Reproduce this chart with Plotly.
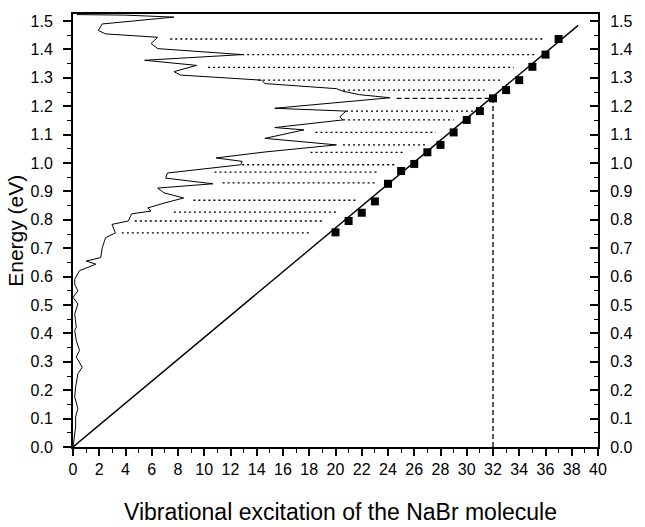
import plotly.graph_objects as go

# Spectrum (intensity on x, energy on y)
spec_x = [0.3, 4.0, 7.69, 2.23, 1.93, 2.48, 6.45, 5.95, 6.45, 12.89, 5.46, 9.42, 7.69, 8.18,
          14.38, 14.62, 20.07, 20.57, 21.81, 24.16, 15.37, 20.8, 20.33, 20.57, 15.37, 17.6,
          14.62, 20.07, 14.62, 10.9, 12.89, 12.77, 7.19, 7.06, 10.66, 6.45, 6.94, 8.43, 6.94,
          5.70, 5.95, 4.46, 4.22, 2.97, 3.23, 2.48, 2.23, 2.11, 1.0, 1.74, 0.5, 0.13, 0.13,
          0.37, 0.0, 0.37, 0.13, 0.25, 0.13, 0.25, 0.5, 0.25, 0.70, 0.37, 0.2, 0.13, 0.37,
          0.2, 0.2, 0.05, 0.0]
spec_y = [1.523, 1.521, 1.514, 1.490, 1.467, 1.455, 1.443, 1.421, 1.403, 1.382, 1.362, 1.344,
          1.322, 1.310, 1.292, 1.280, 1.262, 1.253, 1.241, 1.230, 1.193, 1.183, 1.163, 1.152,
          1.125, 1.117, 1.087, 1.064, 1.039, 1.018, 1.006, 0.994, 0.965, 0.947, 0.927, 0.912,
          0.895, 0.877, 0.859, 0.842, 0.831, 0.821, 0.796, 0.784, 0.754, 0.737, 0.702, 0.667,
          0.655, 0.644, 0.621, 0.591, 0.573, 0.550, 0.527, 0.504, 0.468, 0.422, 0.410, 0.375,
          0.340, 0.317, 0.281, 0.258, 0.211, 0.176, 0.136, 0.106, 0.071, 0.025, 0.0]

# Vibrational levels (squares)
levels_v = [20, 21, 22, 23, 24, 25, 26, 27, 28, 29, 30, 31, 32, 33, 34, 35, 36, 37]
levels_E = [0.756, 0.796, 0.825, 0.865, 0.927, 0.972, 0.997, 1.038, 1.064, 1.108, 1.152,
            1.183, 1.228, 1.257, 1.292, 1.339, 1.382, 1.437]

# Horizontal guide lines: energy, start, end
guide_E = [0.754, 0.796, 0.827, 0.869, 0.930, 0.968, 0.994, 1.038, 1.064, 1.108, 1.152,
           1.183, 1.228, 1.257, 1.292, 1.337, 1.382, 1.437]
guide_x0 = [3.72, 4.71, 7.69, 9.17, 11.4, 10.78, 12.89, 18.1, 20.57, 18.47, 20.57, 20.8,
            24.66, 20.57, 14.1, 10.29, 12.89, 7.41]
guide_x1 = [18.1, 19.09, 20.07, 21.69, 23.05, 23.17, 24.54, 25.28, 27.02, 27.64, 29.0, 30.48,
            31.72, 31.35, 32.71, 33.58, 35.2, 35.94]
highlight_v = 32

# Linear fit line
fit_x = [0.0, 38.49]
fit_y = [0.0, 1.485]

x_ticks = list(range(0, 41, 2))
y_ticks = [i / 10 for i in range(16)]

fig = go.Figure()

for E, a, b, v in zip(guide_E, guide_x0, guide_x1, levels_v):
    dash = "5px,3px" if v == highlight_v else "2px,3px"
    fig.add_trace(go.Scatter(x=[a, b], y=[E, E], mode="lines",
                             line=dict(color="black", width=1.3, dash=dash),
                             hoverinfo="skip", showlegend=False))

# vertical dashed at highlighted level
hE = levels_E[levels_v.index(highlight_v)]
fig.add_trace(go.Scatter(x=[highlight_v, highlight_v], y=[0, hE], mode="lines",
                         line=dict(color="black", width=1.3, dash="5px,3px"),
                         showlegend=False))

fig.add_trace(go.Scatter(x=spec_x, y=spec_y, mode="lines",
                         line=dict(color="black", width=1), showlegend=False))

fig.add_trace(go.Scatter(x=fit_x, y=fit_y, mode="lines",
                         line=dict(color="black", width=1.4), showlegend=False))

fig.add_trace(go.Scatter(x=levels_v, y=levels_E, mode="markers",
                         marker=dict(symbol="square", size=8, color="black"),
                         showlegend=False))

# dummy trace for right axis
fig.add_trace(go.Scatter(x=[None], y=[None], yaxis="y2", showlegend=False))

FAM = "Liberation Sans, Arial, sans-serif"
font = dict(family=FAM, size=16, color="black")
yrange = [0, 1.525]

fig.update_layout(
    width=645, height=527,
    margin=dict(l=73, r=33, t=12, b=80),
    plot_bgcolor="white", paper_bgcolor="white",
    font=font,
    xaxis=dict(range=[0, 40], tickvals=x_ticks, ticktext=[str(t) for t in x_ticks],
               ticks="outside", ticklen=7, tickwidth=1.5, tickcolor="black",
               minor=dict(dtick=1, ticks="outside", ticklen=4, tickwidth=1.2, tickcolor="black"),
               showline=True, linecolor="black", linewidth=2, mirror=True,
               showgrid=False, zeroline=False, tickfont=font),
    yaxis=dict(range=yrange, tickvals=y_ticks, ticktext=[f"{t:.1f}" for t in y_ticks],
               ticks="outside", ticklen=8, tickwidth=1.5, tickcolor="black",
               minor=dict(dtick=0.05, ticks="outside", ticklen=4, tickwidth=1.2, tickcolor="black"),
               showline=True, linecolor="black", linewidth=2,
               showgrid=False, zeroline=False, tickfont=font, ticklabelstandoff=7),
    yaxis2=dict(range=yrange, overlaying="y", side="right",
                tickvals=y_ticks, ticktext=[f"{t:.1f}" for t in y_ticks],
                ticks="inside", ticklen=8, tickwidth=1.5, tickcolor="black",
                minor=dict(dtick=0.05, ticks="inside", ticklen=4, tickwidth=1.2, tickcolor="black"),
                showline=True, linecolor="black", linewidth=2,
                showgrid=False, zeroline=False, tickfont=font, ticklabelstandoff=7),
    annotations=[
        dict(text="Vibrational excitation of the NaBr molecule", xref="paper", yref="paper",
             x=0.51, y=-0.150, xanchor="center", yanchor="middle", showarrow=False,
             font=dict(family=FAM, size=23, color="black")),
        dict(text="Energy (eV)", xref="paper", yref="paper", x=-0.11, y=0.50,
             xanchor="center", yanchor="middle", showarrow=False, textangle=-90,
             font=dict(family=FAM, size=21, color="black")),
    ],
)

fig.write_html("out.html", config={"displayModeBar": False},
               post_script="document.body.style.margin='0';document.body.style.overflow='hidden';")
